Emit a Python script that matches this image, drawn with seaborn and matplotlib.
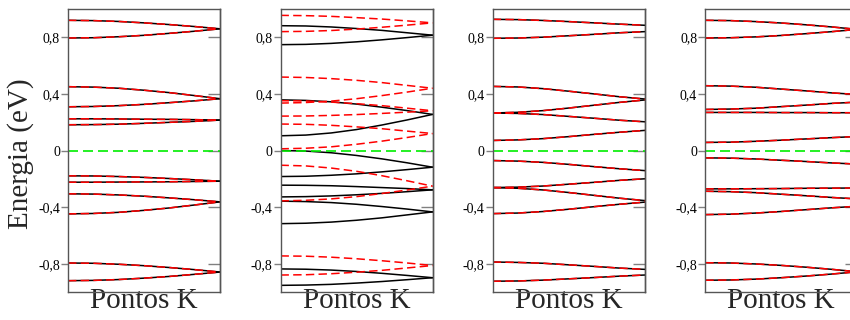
import matplotlib
matplotlib.use("Agg")
import matplotlib.pyplot as plt
import pandas as pd
import seaborn as sns

# k-path samples (fraction of the path from Gamma to K)
k_points = [0.0, 1 / 6, 2 / 6, 0.5, 4 / 6, 5 / 6, 1.0]

# Panel 1: spin-degenerate bands
panel1_bands = [
    [0.920, 0.918, 0.912, 0.902, 0.890, 0.876, 0.860],
    [0.795, 0.797, 0.804, 0.814, 0.828, 0.843, 0.860],
    [0.451, 0.448, 0.440, 0.426, 0.409, 0.388, 0.366],
    [0.309, 0.311, 0.317, 0.326, 0.338, 0.351, 0.366],
    [0.224, 0.224, 0.223, 0.221, 0.220, 0.218, 0.215],
    [0.182, 0.183, 0.186, 0.192, 0.199, 0.206, 0.215],
    [-0.179, -0.180, -0.184, -0.190, -0.198, -0.207, -0.217],
    [-0.224, -0.224, -0.223, -0.222, -0.221, -0.219, -0.217],
    [-0.306, -0.308, -0.314, -0.323, -0.335, -0.348, -0.363],
    [-0.448, -0.445, -0.437, -0.423, -0.406, -0.385, -0.363],
    [-0.795, -0.797, -0.804, -0.814, -0.827, -0.842, -0.859],
    [-0.920, -0.918, -0.912, -0.902, -0.890, -0.875, -0.859],
]

# Panel 2: spin-polarised bands (up = solid black, down = dashed red)
panel2_up = [
    [0.882, 0.880, 0.873, 0.862, 0.849, 0.832, 0.815],
    [0.748, 0.750, 0.757, 0.768, 0.782, 0.798, 0.815],
    [0.358, 0.354, 0.344, 0.328, 0.306, 0.282, 0.255],
    [0.104, 0.109, 0.124, 0.148, 0.180, 0.216, 0.255],
    [0.000, -0.004, -0.016, -0.035, -0.059, -0.087, -0.118],
    [-0.184, -0.182, -0.175, -0.165, -0.151, -0.135, -0.118],
    [-0.245, -0.246, -0.249, -0.255, -0.262, -0.269, -0.278],
    [-0.328, -0.326, -0.321, -0.313, -0.303, -0.291, -0.278],
    [-0.358, -0.361, -0.368, -0.380, -0.396, -0.414, -0.434],
    [-0.517, -0.514, -0.506, -0.493, -0.476, -0.455, -0.434],
    [-0.837, -0.839, -0.845, -0.855, -0.868, -0.883, -0.899],
    [-0.953, -0.951, -0.946, -0.937, -0.926, -0.913, -0.899],
]
panel2_down = [
    [0.955, 0.953, 0.948, 0.939, 0.929, 0.916, 0.902],
    [0.840, 0.842, 0.848, 0.858, 0.871, 0.886, 0.902],
    [0.519, 0.516, 0.508, 0.496, 0.480, 0.460, 0.440],
    [0.335, 0.339, 0.349, 0.366, 0.388, 0.413, 0.440],
    [0.352, 0.350, 0.342, 0.331, 0.317, 0.299, 0.281],
    [0.243, 0.244, 0.248, 0.254, 0.262, 0.271, 0.281],
    [0.187, 0.185, 0.178, 0.167, 0.154, 0.137, 0.120],
    [0.012, 0.016, 0.026, 0.044, 0.066, 0.092, 0.120],
    [-0.104, -0.109, -0.124, -0.147, -0.178, -0.214, -0.252],
    [-0.356, -0.352, -0.342, -0.326, -0.304, -0.279, -0.252],
    [-0.745, -0.747, -0.754, -0.765, -0.779, -0.795, -0.813],
    [-0.880, -0.878, -0.871, -0.860, -0.847, -0.830, -0.813],
]

# Panel 3: spin-degenerate bands
panel3_bands = [
    [0.927, 0.925, 0.919, 0.911, 0.902, 0.893, 0.885],
    [0.793, 0.795, 0.801, 0.811, 0.821, 0.832, 0.840],
    [0.453, 0.449, 0.437, 0.419, 0.400, 0.380, 0.364],
    [0.265, 0.270, 0.282, 0.300, 0.320, 0.340, 0.357],
    [0.265, 0.262, 0.254, 0.241, 0.228, 0.214, 0.203],
    [0.071, 0.075, 0.084, 0.098, 0.114, 0.129, 0.142],
    [-0.071, -0.075, -0.084, -0.098, -0.114, -0.129, -0.142],
    [-0.262, -0.259, -0.251, -0.238, -0.225, -0.211, -0.200],
    [-0.262, -0.267, -0.279, -0.297, -0.317, -0.337, -0.354],
    [-0.446, -0.442, -0.431, -0.415, -0.397, -0.380, -0.365],
    [-0.788, -0.791, -0.797, -0.808, -0.819, -0.831, -0.840],
    [-0.924, -0.922, -0.916, -0.907, -0.898, -0.888, -0.880],
]

# Panel 4: spin-degenerate bands
panel4_bands = [
    [0.920, 0.918, 0.911, 0.901, 0.888, 0.873, 0.856],
    [0.795, 0.797, 0.803, 0.813, 0.826, 0.840, 0.856],
    [0.458, 0.455, 0.447, 0.434, 0.421, 0.407, 0.396],
    [0.290, 0.293, 0.299, 0.310, 0.321, 0.333, 0.342],
    [0.269, 0.269, 0.269, 0.268, 0.268, 0.267, 0.267],
    [0.057, 0.059, 0.065, 0.073, 0.082, 0.091, 0.099],
    [-0.052, -0.054, -0.060, -0.069, -0.078, -0.088, -0.096],
    [-0.271, -0.271, -0.270, -0.269, -0.267, -0.266, -0.265],
    [-0.288, -0.291, -0.298, -0.309, -0.320, -0.332, -0.342],
    [-0.453, -0.450, -0.442, -0.431, -0.418, -0.405, -0.394],
    [-0.793, -0.795, -0.802, -0.812, -0.825, -0.840, -0.857],
    [-0.917, -0.915, -0.909, -0.899, -0.887, -0.873, -0.857],
]

fermi_level = 0.0
y_ticks = [-0.8, -0.4, 0.0, 0.4, 0.8]
y_tick_labels = ["-0,8", "-0,4", "0", "0,4", "0,8"]
x_label = "Pontos K"
y_label = "Energia (eV)"

panels = [
    (panel1_bands, panel1_bands),
    (panel2_up, panel2_down),
    (panel3_bands, panel3_bands),
    (panel4_bands, panel4_bands),
]

sns.set_style("white")
plt.rcParams["font.family"] = ["Liberation Serif", "DejaVu Serif"]
plt.rcParams["axes.unicode_minus"] = False


def bands_frame(bands):
    rows = []
    for idx, band in enumerate(bands):
        for k, e in zip(k_points, band):
            rows.append((idx, k, e))
    return pd.DataFrame(rows, columns=["band", "k", "E"])


W, H = 850.0, 320.0
left_px = [68.0, 280.5, 492.7, 705.3]
ax_w, ax_top, ax_bot = 152.0, 9.0, 292.0
frame_color = "#555555"
tick_color = "#808080"

fig = plt.figure(figsize=(W / 100, H / 100), dpi=100)
for i, (up, down) in enumerate(panels):
    ax = fig.add_axes([left_px[i] / W, (H - ax_bot) / H, ax_w / W, (ax_bot - ax_top) / H])
    sns.lineplot(data=bands_frame(up), x="k", y="E", units="band", estimator=None,
                 sort=False, color="black", linewidth=1.1, ax=ax)
    sns.lineplot(data=bands_frame(down), x="k", y="E", units="band", estimator=None,
                 sort=False, color="#ff0000", linewidth=1.1,
                 linestyle=(0, (5.5, 2.8)), ax=ax)
    ax.axhline(fermi_level, color="#00ee00", linewidth=1.2, linestyle=(0, (6, 3)))

    ax.set_xlim(0, 1)
    ax.set_ylim(-1.0, 1.0)
    ax.set_xticks([])
    ax.set_yticks(y_ticks)
    ax.set_yticklabels(y_tick_labels)
    ax.tick_params(axis="y", left=True, right=False, direction="out", length=5,
                   width=1.0, color=tick_color, labelsize=10, pad=0.8,
                   labelcolor="black")
    for sp in ax.spines.values():
        sp.set_color(frame_color)
        sp.set_linewidth(1.0)

    right = ax.secondary_yaxis("right")
    right.set_yticks(y_ticks)
    right.set_yticklabels([])
    right.tick_params(direction="in", length=9, width=1.0, color=tick_color)
    right.spines["right"].set_color(frame_color)
    right.spines["right"].set_linewidth(1.0)

    ax.set_xlabel(x_label, fontsize=21, labelpad=-3)
    if i == 0:
        ax.set_ylabel(y_label, fontsize=21)
        ax.yaxis.set_label_coords(-0.225, 0.49)
    else:
        ax.set_ylabel("")

fig.savefig("out.png", dpi=100)
